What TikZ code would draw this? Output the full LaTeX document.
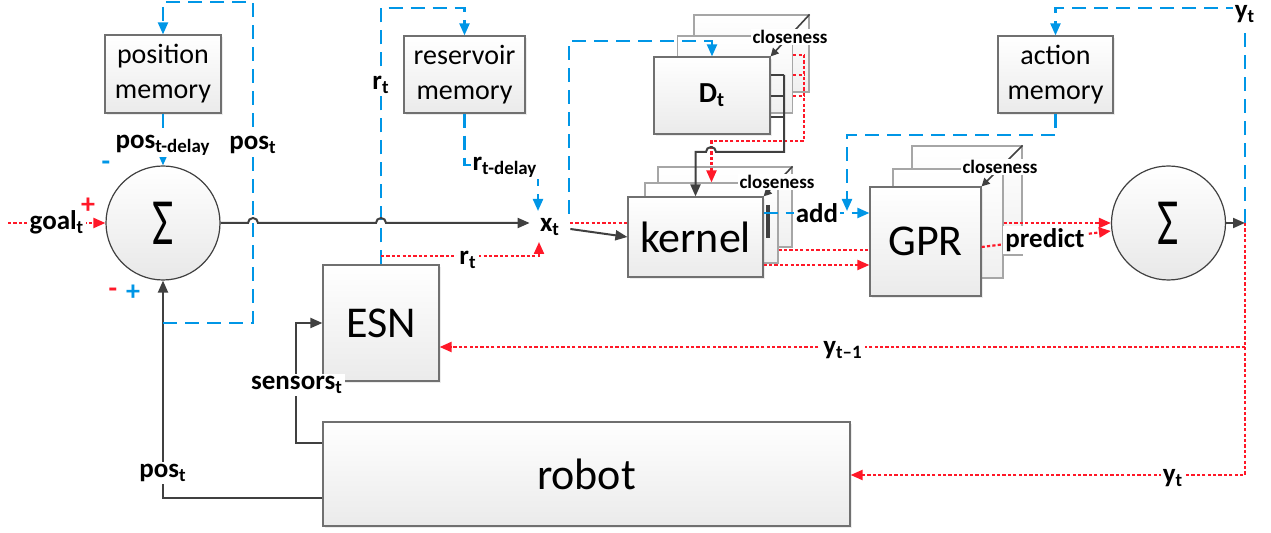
\documentclass[tikz,border=0pt]{standalone}
\usepackage{fontspec}
\usepackage{graphicx}
\setmainfont{Carlito}
\usetikzlibrary{arrows.meta,shadows,positioning}

\definecolor{membl}{RGB}{0,150,230}
\definecolor{predred}{RGB}{255,24,40}
\definecolor{wire}{RGB}{64,64,64}
\definecolor{boxedge}{RGB}{112,112,112}

\newcommand{\lsub}[1]{\textsubscript{#1}}
\newcommand{\sigmasym}{\fontsize{33}{33}\selectfont\scalebox{0.7}[1]{Σ}}

\tikzset{
  arr/.style={-{Triangle[length=6pt,width=5pt]}},
  smallarr/.style={-{Triangle[length=4pt,width=4pt]}},
  block/.style={draw=boxedge, line width=0.6pt, top color=white, bottom color=black!8,
    drop shadow={shadow xshift=1.2pt, shadow yshift=-1.2pt, opacity=0.15}},
  ghost/.style={draw=black!35, line width=0.6pt, top color=white, bottom color=black!6},
  memblock/.style={block, align=center, font=\fontsize{14}{17.5}\selectfont},
  bigblock/.style={block, font=\fontsize{22}{22}\selectfont},
  sumnode/.style={circle, draw=wire, line width=0.6pt, top color=white, bottom color=black!9,
    minimum size=57pt, inner sep=0pt},
  sig/.style={draw=wire, line width=1pt},
  mem/.style={draw=membl, line width=1.1pt, dash pattern=on 7pt off 4pt},
  pred/.style={draw=predred, line width=1.1pt, dash pattern=on 1.6pt off 1.1pt},
  lbl/.style={fill=white, inner sep=1pt, font=\bfseries\fontsize{13.5}{13.5}\selectfont},
  tinylbl/.style={fill=white, inner sep=0.6pt, font=\bfseries\fontsize{9.5}{9.5}\selectfont},
  signlbl/.style={inner sep=0pt, font=\bfseries\fontsize{14}{14}\selectfont},
}

\begin{document}
\begin{tikzpicture}[x=0.5pt,y=-0.5pt]
  \useasboundingbox (0,0) rectangle (1271,533);

  % memories
  \node[memblock, minimum width=58pt, minimum height=39pt] (posmem) at (163,74) {position\\memory};
  \node[memblock, minimum width=60.5pt, minimum height=38.5pt] (resmem) at (464.5,74.5) {reservoir\\memory};
  \node[memblock, minimum width=57.5pt, minimum height=38.5pt] (actmem) at (1055.5,74.5) {action\\memory};

  % summing points
  \node[sumnode] (sum1) at (163,223) {\sigmasym};
  \node[sumnode] (sum2) at (1168.5,223) {\sigmasym};

  % ESN and robot
  \node[bigblock, minimum width=58pt, minimum height=58pt] (esn) at (381,323) {ESN};
  \node[bigblock, minimum width=263.5pt, minimum height=52pt] (robot) at (586.5,474) {robot};

  % D_t stack
  \node[ghost, minimum width=57.5pt, minimum height=38.5pt] (dtb3) at (751.5,53.5) {};
  \node[ghost, minimum width=57.5pt, minimum height=38.5pt] (dtb2) at (735,74.5) {};
  \node[block, minimum width=58pt, minimum height=38.5pt, font=\bfseries\fontsize{14.5}{14.5}\selectfont] (dt) at (712,95.5) {D\lsub{t}};

  % kernel stack
  \node[ghost, minimum width=67pt, minimum height=40pt] (kb3) at (725,207) {};
  \node[ghost, minimum width=66.5pt, minimum height=40pt] (kb2) at (711.5,223) {};
  \node[bigblock, minimum width=67.5pt, minimum height=40pt] (kernel) at (695.5,237) {kernel};
  \draw[wire, line width=2pt] (768,205) -- (768,238);

  % GPR stack
  \node[ghost, minimum width=55pt, minimum height=54.5pt] (gb3) at (967,200.5) {};
  \node[ghost, minimum width=55pt, minimum height=54.5pt] (gb2) at (948,223.5) {};
  \node[bigblock, minimum width=55.5pt, minimum height=54.5pt] (gpr) at (925.5,241.5) {GPR};

  \node[lbl, fill=none, inner sep=5pt] (xt) at (550,227) {x\lsub{t}};

  % junction points
  \coordinate (goalin) at (8,223);
  \coordinate (posfork) at (163,323);
  \coordinate (rfork) at (381,256);
  \coordinate (xtop) at (538,211);
  \coordinate (xbot) at (539,242);
  \coordinate (xtout) at (569,214);
  \coordinate (xtred) at (570,223);
  \coordinate (yt) at (1245,223);

  % goal and position loop
  \draw[pred, arr] (goalin) -- (sum1.west);
  \draw[sig, arr] (robot.west |- 0,498) -| (sum1.south);
  \draw[mem, arr] (posfork) -- (253,323) -- (253,2) -| (posmem.north);
  \draw[mem, arr] (posmem.south) -- (sum1.north);

  % reservoir
  \draw[mem, arr] (esn.north) -- (381,8) -| (resmem.north);
  \draw[pred, arr] (rfork) -| (xbot);
  \draw[mem, arr] (resmem.south) |- (538,165) -- (xtop);
  \draw[sig, arr] (robot.west |- 0,443) -- (296,443) |- (esn.west);

  % error into x_t, with hops
  \draw[sig, arr] (sum1.east) -- (248,223) arc[start angle=180, end angle=360, radius=5]
    -- (376,223) arc[start angle=180, end angle=360, radius=5] -- (xt.west |- 0,223);

  % x_t to D_t and kernel
  \draw[mem, arr] (xtout) -- (569,41) -| (dt.north);
  \draw[pred] (xtred) -- (kernel.west |- 0,223);
  \draw[sig, arr] (xt.east |- 0,229) -- (kernel.west);

  % D_t to kernel
  \foreach \yy in {55,75,96}
    \draw[pred] (dtb2.east |- 0,\yy) -- (804,\yy);
  \draw[pred, arr] (804,55) |- (kb2.north |- 0,141) -- (kb2.north);
  \foreach \yy in {75,96,117}
    \draw[sig] (dt.east |- 0,\yy) -- (784,\yy);
  \draw[sig, arr] (784,75) -- (784,152) -- (716,152) arc[start angle=0, end angle=-180, radius=5]
    -- (kernel.north |- 0,152) -- (kernel.north);

  % kernel to GPR
  \draw[pred] (kb2.east |- 0,250) -- (gpr.west |- 0,250);
  \draw[pred, arr] (kernel.east |- 0,265) -- (gpr.west |- 0,265);
  \draw[mem, arr] (kernel.east |- 0,213) -- (gpr.west |- 0,213);
  \draw[mem, arr] (actmem.south) |- (847,135) -- (847,211);

  % GPR to output sum
  \draw[pred, arr] (gb2.east |- 0,223) -- (sum2.west);
  \draw[pred, arr] (gpr.east |- 0,247) -- ([yshift=-4pt]sum2.west);

  % output y_t
  \draw[sig, arr] (sum2.east) -- (yt);
  \draw[mem, arr] (yt) -- (1245,8) -| (actmem.north);
  \draw[pred, arr] (yt) |- (robot.east |- 0,475);
  \draw[pred, arr] (1245,347) -- (esn.east |- 0,347);

  % closeness arrows
  \draw[sig, line width=0.8pt, smallarr] (dtb3.north east) -- (dt.north east);
  \draw[sig, line width=0.8pt, smallarr] (kb3.north east) -- (kernel.north east);
  \draw[sig, line width=0.8pt, smallarr] (gb3.north east) -- (gpr.north east);
  \node[tinylbl] (closedt) at (790,37) {closeness};
  \node[tinylbl] (closekern) at (777,182) {closeness};
  \node[tinylbl] (closegpr) at (1000,167) {closeness};

  % labels
  \node[lbl] (goallbl) at (57,222) {goal\lsub{t}};
  \node[lbl] (posdelay) at (163,145) {pos\lsub{t-delay}};
  \node[lbl] (posfb) at (253,145) {pos\lsub{t}};
  \node[lbl] (posrobot) at (163,473) {pos\lsub{t}};
  \node[lbl] (senslbl) at (297,385) {sensors\lsub{t}};
  \node[lbl] (rup) at (381,85) {r\lsub{t}};
  \node[lbl] (rdelay) at (505,167) {r\lsub{t-delay}};
  \node[lbl] (rside) at (468,260) {r\lsub{t}};
  \node[lbl] (addlbl) at (817,213) {add};
  \node[lbl] (predictlbl) at (1045,240) {predict};
  \node[lbl] (ylast) at (843,350) {y\lsub{t--1}};
  \node[lbl] (yrobot) at (1173,478) {y\lsub{t}};
  \node[lbl] (ytop) at (1245,14) {y\lsub{t}};

  % signs at the left sum
  \node[signlbl, text=membl] at (106,166) {-};
  \node[signlbl, text=predred] at (88,206) {+};
  \node[signlbl, text=predred] at (113,293) {-};
  \node[signlbl, text=membl] at (133,293) {+};
\end{tikzpicture}
\end{document}
